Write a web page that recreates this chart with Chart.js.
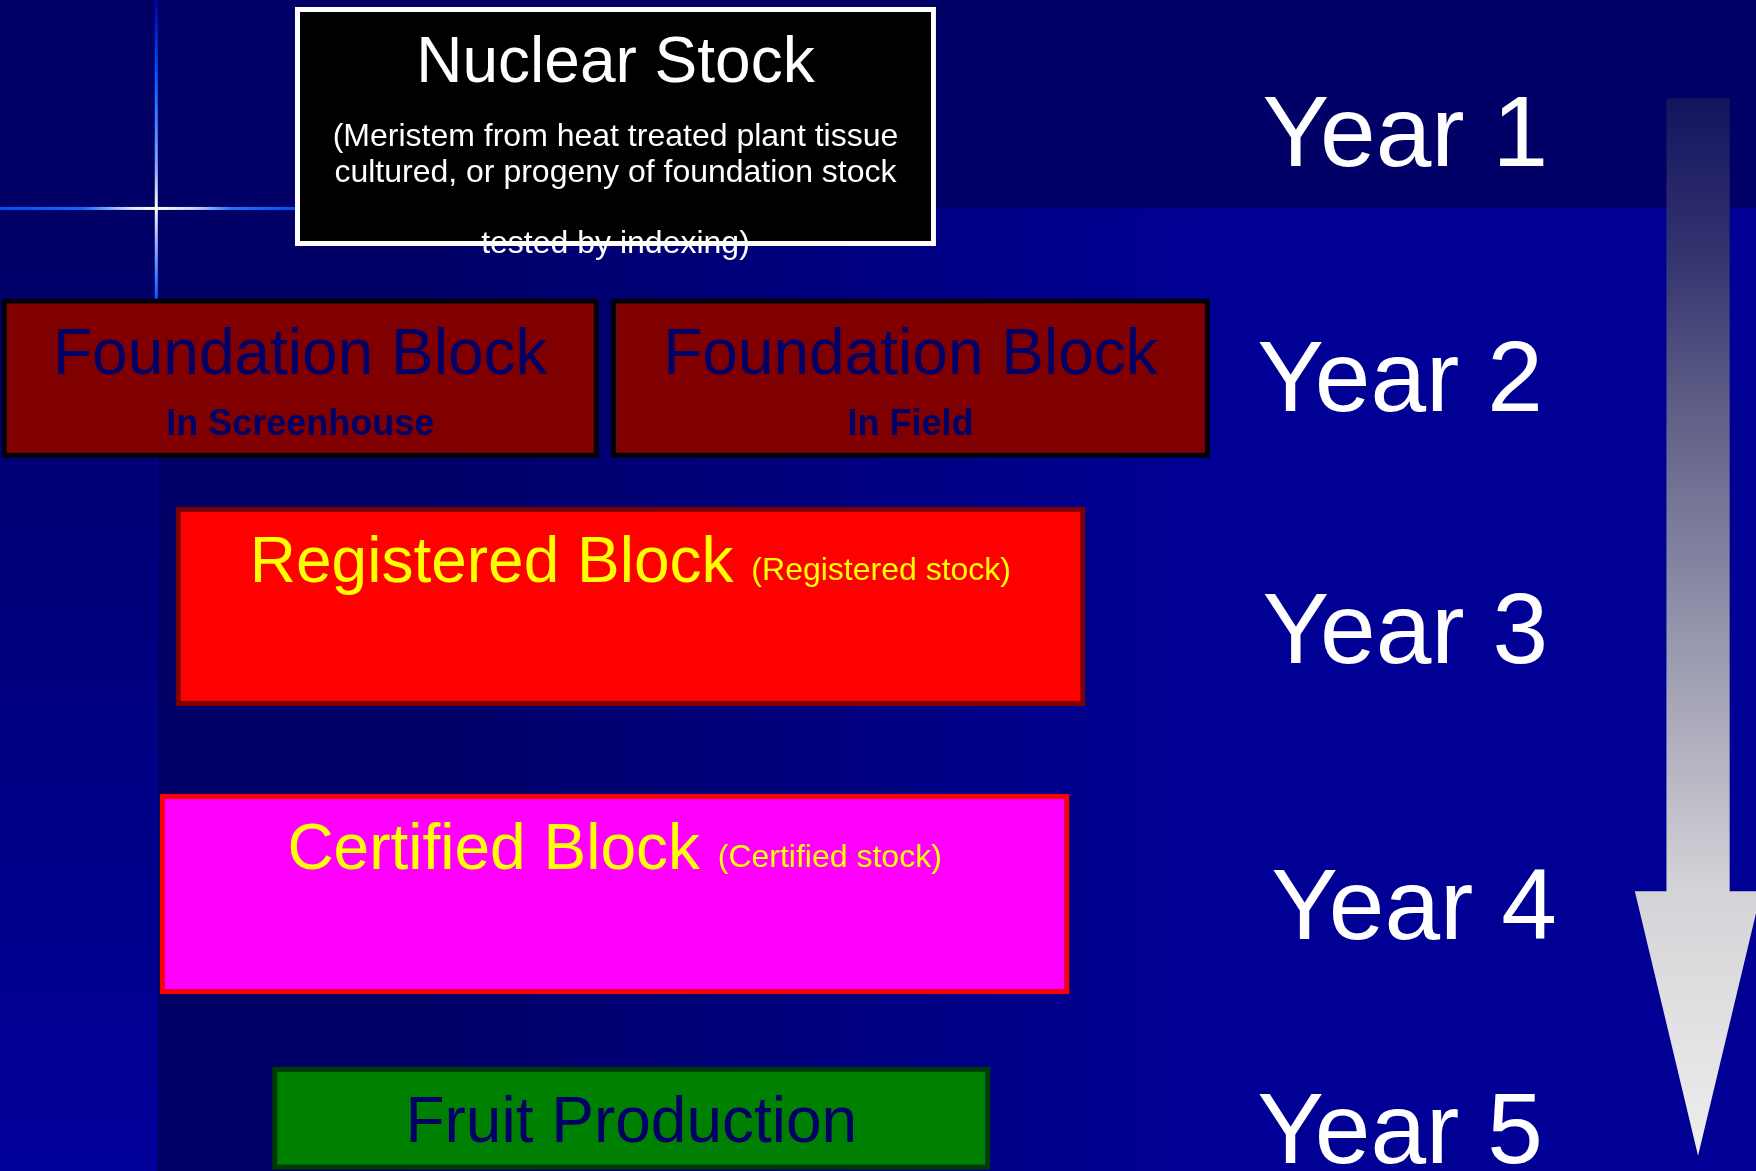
<!DOCTYPE html>
<html>
<head>
<meta charset="utf-8">
<script src="https://cdn.jsdelivr.net/npm/chart.js@4.4.1/dist/chart.umd.min.js"></script>
<style>
  html, body { margin: 0; padding: 0; background: #000066; overflow: hidden; }
  #wrap { width: 1756px; height: 1171px; }
</style>
</head>
<body>
<div id="wrap"><canvas id="grafico" width="1756" height="1171"></canvas></div>
<script>
// blocks of the certification scheme, x/y in slide units (0-100)
const blocks = ['Nuclear Stock', 'Foundation Block', 'Foundation Block', 'Registered Block', 'Certified Block', 'Fruit Production'];
const blockStart = [16.8, 0.1, 34.8, 10.0, 9.1, 15.5];
const blockEnd = [53.3, 34.1, 68.9, 61.8, 60.9, 56.4];
const blockTop = [0.6, 25.5, 25.5, 43.3, 67.8, 91.1];
const blockBottom = [21.0, 39.1, 39.1, 60.3, 84.9, 99.9];
const subNotes = [
  ['(Meristem from heat treated plant tissue', 'cultured, or progeny of foundation stock', '', 'tested by indexing)'],
  ['In Screenhouse'],
  ['In Field'],
  [], [], []
];
const stockNotes = ['', '', '', '(Registered stock)', '(Certified stock)', ''];
const years = ['Year 1', 'Year 2', 'Year 3', 'Year 4', 'Year 5'];
const yearAt = [14.2, 35.1, 56.6, 80.2, 99.3];
const yearLeft = [71.9, 71.6, 71.9, 72.4, 71.6];

const FONT = '"Liberation Sans", Arial, sans-serif';

const boxLook = [
  { fill: '#000000', edge: '#ffffff', text: '#ffffff', note: '32px ' + FONT, noteTop: 139, noteStep: 35.5 },
  { fill: '#800000', edge: '#000000', text: '#000066', note: 'bold 36px ' + FONT, noteTop: 136, noteStep: 40 },
  { fill: '#800000', edge: '#000000', text: '#000066', note: 'bold 36px ' + FONT, noteTop: 136, noteStep: 40 },
  { fill: '#ff0000', edge: '#800000', text: '#ffff00' },
  { fill: '#ff00ff', edge: '#ff0000', text: '#ffff00' },
  { fill: '#008000', edge: '#003c00', text: '#000066' }
];

function spanPixels(chart, h) {
  const s = chart.scales.y;
  if (!s) return 10;
  const p = Math.abs(s.getPixelForValue(h) - s.getPixelForValue(0));
  return isFinite(p) && p > 0 ? p : 10;
}

const datasets = blocks.map((name, i) => ({
  label: name,
  data: [{ x: [blockStart[i], blockEnd[i]], y: (blockTop[i] + blockBottom[i]) / 2 }],
  backgroundColor: boxLook[i].fill,
  borderColor: boxLook[i].edge,
  borderWidth: 5,
  borderSkipped: false,
  inflateAmount: 0,
  stack: 'blocks',
  barThickness: ctx => spanPixels(ctx.chart, blockBottom[i] - blockTop[i])
}));

const fundo = {
  id: 'fundo',
  beforeDraw(chart) {
    const ctx = chart.ctx;
    const W = chart.width, H = chart.height;
    const bandY = chart.scales.y.getPixelForValue(17.8);
    const colX = chart.scales.x.getPixelForValue(8.9);
    ctx.save();
    ctx.fillStyle = '#000066';
    ctx.fillRect(0, 0, W, H);
    let g = ctx.createLinearGradient(400, 0, 1200, 0);
    g.addColorStop(0, '#000066');
    g.addColorStop(1, '#000094');
    ctx.fillStyle = g;
    ctx.fillRect(colX, bandY, W - colX, H - bandY);
    g = ctx.createLinearGradient(0, bandY, 0, H);
    g.addColorStop(0, '#000066');
    g.addColorStop(1, '#00009a');
    ctx.fillStyle = g;
    ctx.fillRect(0, bandY, colX, H - bandY);
    // thin edge of the column
    ctx.fillStyle = 'rgba(0,0,170,0.6)';
    ctx.fillRect(colX - 1, 455, 2, H - 455);
    // light cross
    g = ctx.createLinearGradient(0, 0, 0, 300);
    g.addColorStop(0, '#0000a0');
    g.addColorStop(0.25, '#0058ff');
    g.addColorStop(0.55, '#80a8ff');
    g.addColorStop(0.69, '#fffff0');
    g.addColorStop(0.8, '#a0b8ff');
    g.addColorStop(1, '#0058ff');
    ctx.fillStyle = g;
    ctx.fillRect(colX - 1.5, 0, 3, 300);
    g = ctx.createLinearGradient(0, 0, 296, 0);
    g.addColorStop(0, '#0050f0');
    g.addColorStop(0.28, '#1a66ff');
    g.addColorStop(0.45, '#e0e8ff');
    g.addColorStop(0.53, '#fffff0');
    g.addColorStop(0.66, '#c8d4ff');
    g.addColorStop(0.78, '#2a70ff');
    g.addColorStop(1, '#0050f0');
    ctx.fillStyle = g;
    ctx.fillRect(0, bandY - 1.5, 296, 3);
    ctx.restore();
  },
  afterDatasetsDraw(chart) {
    const ctx = chart.ctx;
    const xs = chart.scales.x, ys = chart.scales.y;
    ctx.save();
    ctx.textBaseline = 'alphabetic';

    blocks.forEach((name, i) => {
      const bar = chart.getDatasetMeta(i).data[0];
      const p = bar.getProps(['x', 'base', 'y', 'height'], true);
      const left = Math.min(p.x, p.base), right = Math.max(p.x, p.base);
      const cx = (left + right) / 2;
      const top = p.y - p.height / 2;
      const look = boxLook[i];
      ctx.fillStyle = look.text;
      ctx.font = '64px ' + FONT;
      if (stockNotes[i]) {
        const w1 = ctx.measureText(name + ' ').width;
        ctx.font = '32px ' + FONT;
        const w2 = ctx.measureText(stockNotes[i]).width;
        const sx = cx - (w1 + w2) / 2;
        ctx.textAlign = 'left';
        ctx.font = '64px ' + FONT;
        ctx.fillText(name, sx, top + 75);
        ctx.font = '32px ' + FONT;
        ctx.fillText(stockNotes[i], sx + w1, top + 73);
      } else {
        ctx.textAlign = 'center';
        ctx.fillText(name, cx, top + 75);
      }
      if (subNotes[i].length) {
        ctx.textAlign = 'center';
        ctx.font = look.note;
        subNotes[i].forEach((line, k) => {
          ctx.fillText(line, cx, top + look.noteTop + k * look.noteStep);
        });
      }
    });

    // year labels
    ctx.fillStyle = '#ffffff';
    ctx.font = '100px ' + FONT;
    ctx.textAlign = 'left';
    years.forEach((t, i) => {
      ctx.fillText(t, xs.getPixelForValue(yearLeft[i]), ys.getPixelForValue(yearAt[i]));
    });

    // downward arrow
    const sL = xs.getPixelForValue(94.9), sR = xs.getPixelForValue(98.5);
    const hL = xs.getPixelForValue(93.1), hR = xs.getPixelForValue(100.3);
    const tipX = xs.getPixelForValue(96.7);
    const sTop = ys.getPixelForValue(8.4), hTop = ys.getPixelForValue(76.1), tipY = ys.getPixelForValue(98.7);
    const g = ctx.createLinearGradient(0, sTop, 0, tipY);
    g.addColorStop(0, 'rgb(20,20,95)');
    g.addColorStop(0.15, 'rgb(52,52,112)');
    g.addColorStop(0.3, 'rgb(96,96,136)');
    g.addColorStop(0.75, 'rgb(212,212,216)');
    g.addColorStop(1, 'rgb(238,238,238)');
    ctx.fillStyle = g;
    ctx.beginPath();
    ctx.moveTo(sL, sTop);
    ctx.lineTo(sR, sTop);
    ctx.lineTo(sR, hTop);
    ctx.lineTo(hR, hTop);
    ctx.lineTo(tipX, tipY);
    ctx.lineTo(hL, hTop);
    ctx.lineTo(sL, hTop);
    ctx.closePath();
    ctx.fill();
    ctx.restore();
  }
};

const chart = new Chart(document.getElementById('grafico'), {
  type: 'bar',
  data: { datasets: datasets },
  options: {
    indexAxis: 'y',
    responsive: false,
    animation: false,
    devicePixelRatio: 1,
    events: [],
    layout: { padding: 0 },
    scales: {
      x: { type: 'linear', min: 0, max: 100, stacked: false, offset: false, display: false },
      y: { type: 'linear', min: 0, max: 100, reverse: true, offset: false, display: false }
    },
    plugins: {
      legend: { display: false },
      tooltip: { enabled: false }
    }
  },
  plugins: [fundo]
});
</script>
</body>
</html>
